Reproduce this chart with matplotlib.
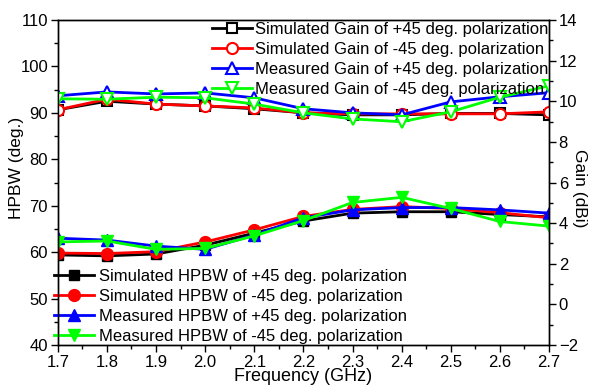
import matplotlib
matplotlib.use('Agg')
import matplotlib.pyplot as plt
from matplotlib.ticker import MultipleLocator

plt.rcParams['font.family'] = ['Liberation Sans', 'DejaVu Sans']

freq = [1.7, 1.8, 1.9, 2.0, 2.1, 2.2, 2.3, 2.4, 2.5, 2.6, 2.7]

# HPBW (deg.)
sim_hpbw_p45 = [59.4, 59.2, 59.6, 61.5, 64.1, 66.7, 68.4, 68.7, 68.7, 68.1, 67.6]
sim_hpbw_m45 = [59.8, 59.7, 60.1, 62.2, 64.8, 67.7, 69.2, 69.8, 69.4, 68.5, 67.4]
meas_hpbw_p45 = [63.0, 62.6, 61.3, 60.6, 63.7, 67.4, 69.1, 69.6, 69.6, 69.1, 68.4]
meas_hpbw_m45 = [62.2, 62.4, 60.6, 60.8, 63.5, 66.8, 70.7, 71.8, 69.4, 66.6, 65.6]

# Gain (dBi)
sim_gain_p45 = [9.58, 10.00, 9.86, 9.77, 9.63, 9.43, 9.33, 9.33, 9.40, 9.40, 9.33]
sim_gain_m45 = [9.58, 10.10, 9.86, 9.77, 9.67, 9.43, 9.38, 9.38, 9.38, 9.38, 9.48]
meas_gain_p45 = [10.27, 10.46, 10.36, 10.41, 10.17, 9.63, 9.43, 9.33, 9.97, 10.22, 10.42]
meas_gain_m45 = [10.12, 10.10, 10.20, 10.17, 9.86, 9.43, 9.13, 8.99, 9.48, 10.20, 10.76]

fig = plt.figure(figsize=(5.9, 3.9), dpi=100)
ax1 = fig.add_axes([0.098, 0.1154, 0.8325, 0.8333])
ax2 = ax1.twinx()

lw = 2
ms = 8.5

# HPBW lines, filled markers
h1, = ax1.plot(freq, sim_hpbw_p45, color='black', marker='s', lw=lw, ms=ms - 1,
               label='Simulated HPBW of +45 deg. polarization')
h2, = ax1.plot(freq, sim_hpbw_m45, color='red', marker='o', lw=lw, ms=ms,
               label='Simulated HPBW of -45 deg. polarization')
h3, = ax1.plot(freq, meas_hpbw_p45, color='blue', marker='^', lw=lw, ms=ms,
               label='Measured HPBW of +45 deg. polarization')
h4, = ax1.plot(freq, meas_hpbw_m45, color='#00ff00', marker='v', lw=lw, ms=ms,
               label='Measured HPBW of -45 deg. polarization')

# Gain lines, open markers
g1, = ax2.plot(freq, sim_gain_p45, color='black', marker='s', lw=lw, ms=7,
               mfc='white', mew=1.5, label='Simulated Gain of +45 deg. polarization')
g2, = ax2.plot(freq, sim_gain_m45, color='red', marker='o', lw=lw, ms=8,
               mfc='white', mew=1.5, label='Simulated Gain of -45 deg. polarization')
g3, = ax2.plot(freq, meas_gain_p45, color='blue', marker='^', lw=lw, ms=9,
               mfc='white', mew=1.5, label='Measured Gain of +45 deg. polarization')
g4, = ax2.plot(freq, meas_gain_m45, color='#00ff00', marker='v', lw=lw, ms=9,
               mfc='white', mew=1.5, label='Measured Gain of -45 deg. polarization')

ax1.set_xlim(1.7, 2.7)
ax1.set_ylim(40, 110)
ax2.set_ylim(-2, 14)

ax1.xaxis.set_minor_locator(MultipleLocator(0.05))
ax1.yaxis.set_major_locator(MultipleLocator(10))
ax1.yaxis.set_minor_locator(MultipleLocator(5))
ax2.yaxis.set_major_locator(MultipleLocator(2))
ax2.yaxis.set_minor_locator(MultipleLocator(1))
ax1.set_xticks(freq)
ax1.set_xticklabels([f'{f:.1f}' for f in freq])

for ax in (ax1, ax2):
    ax.tick_params(which='major', direction='out', length=5, width=1, labelsize=12, pad=2)
    ax.tick_params(which='minor', direction='out', length=3, width=1)
    for s in ax.spines.values():
        s.set_linewidth(1)

ax1.set_xlabel('Frequency (GHz)', fontsize=13, labelpad=-1)
fig.text(17 / 590, 1 - 168 / 390, 'HPBW (deg.)', fontsize=12.5, rotation=90,
         ha='center', va='center')
fig.text(580 / 590, 1 - 188 / 390, 'Gain (dBi)', fontsize=12.5, rotation=270,
         ha='center', va='center')

leg1 = ax1.legend(handles=[h1, h2, h3, h4], loc='lower left', bbox_to_anchor=(-0.007, 0.004),
                  frameon=False, fontsize=12, handlelength=2.4, handletextpad=0.3,
                  labelspacing=0.3, borderpad=0, borderaxespad=0)
leg2 = ax2.legend(handles=[g1, g2, g3, g4], loc='upper right', bbox_to_anchor=(1.003, 1.0),
                  frameon=False, fontsize=12, handlelength=2.4, handletextpad=0.2,
                  labelspacing=0.3, borderpad=0.1, borderaxespad=0)

fig.savefig('out.png', dpi=100)
